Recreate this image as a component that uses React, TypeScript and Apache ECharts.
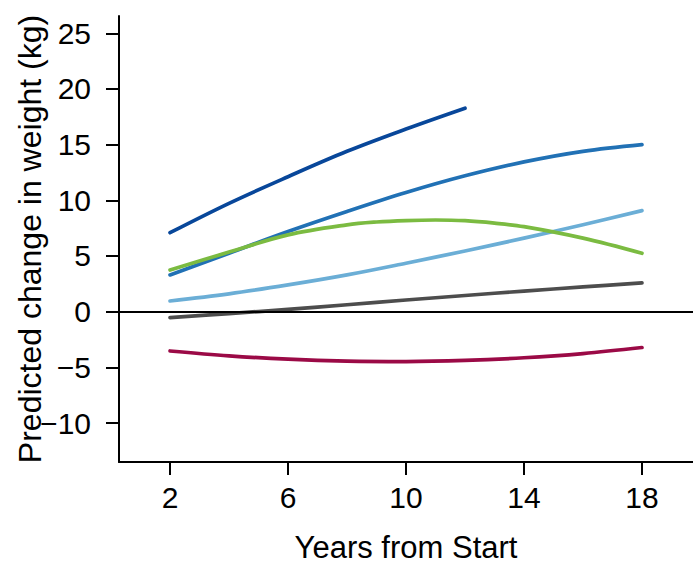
import React, { useEffect, useRef } from "react";
import * as echarts from "echarts";

const yearsFull = [2, 4, 6, 8, 10, 12, 14, 16, 18];
const yearsShort = [2, 4, 6, 8, 10, 12];
const yearsGreen = [2, 4, 6, 8, 9, 10, 11, 12, 13, 14, 16, 18];

const navyValues = [7.09, 9.73, 12.12, 14.4, 16.4, 18.27];
const blueValues = [3.3, 5.25, 7.2, 9.0, 10.7, 12.2, 13.45, 14.4, 15.0];
const greenValues = [3.74, 5.35, 6.9, 7.8, 8.05, 8.18, 8.23, 8.17, 7.95, 7.63, 6.6, 5.24];
const lightBlueValues = [0.96, 1.6, 2.4, 3.3, 4.35, 5.45, 6.6, 7.8, 9.07];
const grayValues = [-0.54, -0.17, 0.2, 0.62, 1.05, 1.45, 1.85, 2.22, 2.58];
const crimsonValues = [-3.53, -3.97, -4.27, -4.44, -4.48, -4.38, -4.14, -3.76, -3.22];

const xTicks = [2, 6, 10, 14, 18];
const yTicks = [-10, -5, 0, 5, 10, 15, 20, 25];

const FONT = "'Liberation Sans', Arial, Helvetica, sans-serif";

function pairs(xs: number[], ys: number[]) {
  return ys.map((y, i) => [xs[i], y]);
}

function lineSeries(name: string, xs: number[], ys: number[], color: string, extra: any = {}) {
  return {
    name,
    type: "line",
    data: pairs(xs, ys),
    smooth: 0.35,
    symbol: "none",
    lineStyle: { color, width: 3.7, cap: "round", join: "round" },
    silent: true,
    ...extra,
  };
}

export default function App() {
  const ref = useRef<HTMLDivElement>(null);
  useEffect(() => {
    if (!ref.current) return;
    const chart = echarts.init(ref.current, null, { renderer: "svg" });
    chart.setOption({
      animation: false,
      backgroundColor: "#ffffff",
      grid: { left: 119, right: 0, top: 16, bottom: 104, containLabel: false, outerBoundsMode: "none" },
      xAxis: {
        type: "value",
        min: 0.27,
        max: 19.73,
        name: "Years from Start",
        nameLocation: "middle",
        nameGap: 70,
        nameMoveOverlap: false,
        nameTextStyle: { fontSize: 31, color: "#000", fontFamily: FONT },
        axisLine: { show: true, onZero: false, lineStyle: { color: "#000", width: 2 } },
        axisTick: { show: true, length: 13, lineStyle: { color: "#000", width: 2 }, customValues: xTicks },
        axisLabel: { fontSize: 30, color: "#000", fontFamily: FONT, margin: 20, customValues: xTicks },
        splitLine: { show: false },
      },
      yAxis: {
        type: "value",
        min: -13.5,
        max: 26.55,
        name: "Predicted change in weight (kg)",
        nameLocation: "middle",
        nameGap: 73,
        nameMoveOverlap: false,
        nameTextStyle: { fontSize: 32, color: "#000", fontFamily: FONT },
        axisLine: { show: true, onZero: false, lineStyle: { color: "#000", width: 2 } },
        axisTick: { show: true, length: 13, lineStyle: { color: "#000", width: 2 }, customValues: yTicks },
        axisLabel: {
          fontSize: 30,
          color: "#000",
          fontFamily: FONT,
          margin: 28,
          customValues: yTicks,
          formatter: (v: number) => (v < 0 ? "\u2212" + Math.abs(v) : String(v)),
        },
        splitLine: { show: false },
      },
      series: [
        lineSeries("gray", yearsFull, grayValues, "#4d4d4d", {
          markLine: {
            silent: true,
            symbol: "none",
            label: { show: false },
            lineStyle: { color: "#000", width: 1.8, type: "solid" },
            data: [{ yAxis: 0 }],
          },
        }),
        lineSeries("crimson", yearsFull, crimsonValues, "#9b0a46"),
        lineSeries("lightBlue", yearsFull, lightBlueValues, "#6baed6"),
        lineSeries("blue", yearsFull, blueValues, "#2171b5"),
        lineSeries("green", yearsGreen, greenValues, "#7bbb41"),
        lineSeries("navy", yearsShort, navyValues, "#08479a"),
      ],
    });
    return () => chart.dispose();
  }, []);
  return (
    <div
      ref={ref}
      style={{ position: "fixed", left: 0, top: 0, width: 693, height: 566, background: "#fff" }}
    />
  );
}
